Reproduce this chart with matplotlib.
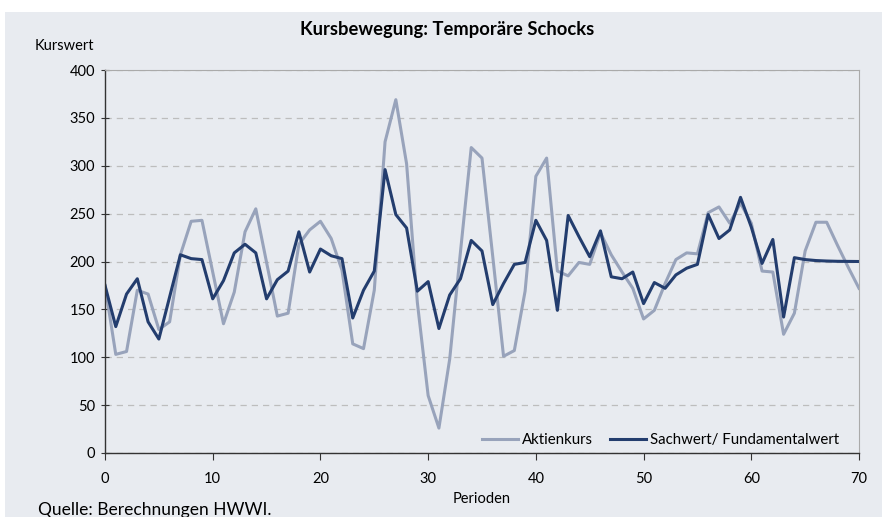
import numpy as np
import matplotlib.pyplot as plt
from matplotlib.patches import Rectangle

plt.rcParams['font.family'] = ['Lato', 'DejaVu Sans']

# Perioden 0..70
perioden = np.arange(0, 71)

aktienkurs = [175, 103, 106, 170, 166, 129, 137, 207, 242, 243,
              189, 135, 168, 231, 255, 199, 143, 146, 218, 233,
              242, 224, 191, 114, 109, 170, 325, 369, 302, 157,
              60, 26, 98, 210, 319, 308, 205, 101, 107, 169,
              289, 308, 190, 185, 199, 197, 230, 207, 189, 172,
              140, 149, 177, 202, 209, 208, 251, 257, 240, 261,
              240, 190, 189, 124, 146, 211, 241, 241, 217, 194,
              172]

sachwert = [175, 132, 166, 182, 137, 119, 163, 207, 203, 202,
            161, 180, 209, 218, 209, 161, 181, 190, 231, 189,
            213, 206, 203, 141, 170, 190, 296, 249, 235, 169,
            179, 130, 165, 182, 222, 211, 155, 177, 197, 199,
            243, 222, 149, 248, 226, 205, 232, 184, 182, 189,
            156, 178, 172, 186, 193, 197, 249, 224, 233, 267,
            236, 198, 223, 142, 204, 202, 201, 200.5, 200.2, 200.1,
            200]

bg = '#E8EBF0'
light = '#98A3BB'
dark = '#233D6E'

fig = plt.figure(figsize=(8.82, 5.17), dpi=100)
fig.patch.set_facecolor('white')
fig.patches.append(Rectangle((5 / 882, 0), 1 - 5 / 882, 1 - 12 / 517,
                             transform=fig.transFigure, facecolor=bg,
                             edgecolor='none', zorder=-10))

ax = fig.add_axes([105 / 882, 1 - 453 / 517, (859 - 105) / 882, (453 - 70) / 517])
ax.set_facecolor(bg)

ax.plot(perioden, aktienkurs, color=light, lw=2.2, label='Aktienkurs')
ax.plot(perioden, sachwert, color=dark, lw=2.2, label='Sachwert/ Fundamentalwert')

ax.set_xlim(0, 70)
ax.set_ylim(0, 400)
ax.set_xticks(range(0, 71, 10))
ax.set_yticks(range(0, 401, 50))
ax.yaxis.grid(True, linestyle=(0, (5, 4)), color='#BDBDBD', lw=0.9)
ax.set_axisbelow(True)

for s in ['top', 'right']:
    ax.spines[s].set_color('#AAAAAA')
for s in ['left', 'bottom']:
    ax.spines[s].set_color('#333333')
    ax.spines[s].set_linewidth(1.0)

ax.tick_params(axis='x', direction='out', length=5, labelsize=10.5, pad=9, color='#333333')
ax.tick_params(axis='y', direction='inout', length=6, labelsize=10.5, pad=4, color='#333333')

ax.set_xlabel('Perioden', fontsize=10.5, labelpad=4)

leg = ax.legend(loc='lower right', ncol=2, frameon=False, fontsize=10.8,
                handlelength=2.4, handletextpad=0.3, columnspacing=1.1,
                bbox_to_anchor=(0.992, -0.02))

fig.text(0.507, 1 - 30 / 517, 'Kursbewegung: Temporäre Schocks', ha='center',
         va='center', fontsize=13.2, fontweight='bold')
fig.text(35 / 882, 1 - 46 / 517, 'Kurswert', ha='left', va='center', fontsize=10.5)
fig.text(38 / 882, 1 - 510 / 517, 'Quelle: Berechnungen HWWI.', ha='left',
         va='center', fontsize=12.5)

fig.savefig('out.png', dpi=100, facecolor=fig.get_facecolor())
